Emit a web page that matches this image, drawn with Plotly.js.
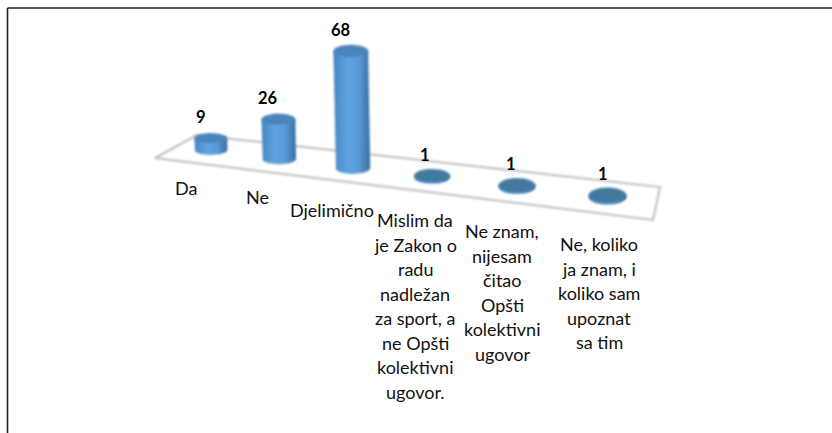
<!DOCTYPE html>
<html>
<head>
<meta charset="utf-8">
<script src="https://cdn.plot.ly/plotly-3.0.1.min.js"></script>
<style>
html,body{margin:0;padding:0;background:#fff;overflow:hidden}
#chart{width:832px;height:433px}
#chart .scatterlayer .trace{filter:blur(0.8px)}
</style>
</head>
<body>
<div id="chart"></div>
<script>
const categories = [
  ["Da"],
  ["Ne"],
  ["Djelimično"],
  ["Mislim da","je Zakon o","radu","nadležan","za sport, a","ne Opšti","kolektivni","ugovor."],
  ["Ne znam,","nijesam","čitao","Opšti","kolektivni","ugovor"],
  ["Ne, koliko","ja znam, i","koliko sam","upoznat","sa tim"]
];
const values = [9, 26, 68, 1, 1, 1];

// Oblique projection of the tilted 3D floor on to the page
const project = (i, v) => {
  const cx = 211 + 65.3*i + 2.8*i*i;
  const by = 150 + 8.6*i + 0.16*i*i;
  const h = v * (1.33 + 0.195*Math.min(i,2));
  return {cx, by, h, rx: 16.4 + 0.5*i, ry: 5 + 0.55*i, top: by - h, tx: cx - 0.017*h};
};
const floorX = [155, 197, 660, 653, 155];
const floorY = [158, 135, 187, 220, 158];
const labelCx = [186, 257, 332, 415, 502, 599];
const labelCy = [188, 197, 210, 220, 231, 244];
const lineGap = 24.5;

const traces = [{
  type:'scatter', mode:'lines', x:floorX, y:floorY, fill:'toself', fillcolor:'#ffffff',
  line:{color:'#bcbcbc', width:2}, hoverinfo:'skip', showlegend:false
}];

const N = 24;
values.forEach((v,i)=>{
  const p = project(i,v);
  const bx=[], by=[];
  bx.push(p.tx-p.rx); by.push(p.top);
  for(let k=0;k<=N;k++){
    const a=Math.PI*k/N;
    bx.push(p.cx-p.rx*Math.cos(a)); by.push(p.by+p.ry*Math.sin(a));
  }
  bx.push(p.tx+p.rx); by.push(p.top);
  bx.push(p.tx-p.rx); by.push(p.top);
  traces.push({
    type:'scatter', mode:'lines', x:bx, y:by, fill:'toself',
    line:{width:0, color:'rgba(0,0,0,0)'}, hoverinfo:'skip', showlegend:false,
    fillgradient:{type:'horizontal', colorscale:[
      [0,'#4580b8'],[0.12,'#5090cb'],[0.4,'#5fa3e0'],[0.7,'#5899d6'],[0.9,'#427db5'],[1,'#336895']
    ]}
  });
  const ex=[], ey=[];
  for(let k=0;k<=2*N;k++){
    const a=Math.PI*k/N;
    ex.push(p.tx+p.rx*Math.cos(a)); ey.push(p.top+p.ry*Math.sin(a));
  }
  traces.push({
    type:'scatter', mode:'lines', x:ex, y:ey, fill:'toself', fillcolor: v>1 ? '#4a84bb' : '#44799f',
    line:{width:0, color:'rgba(0,0,0,0)'}, hoverinfo:'skip', showlegend:false
  });
});

const annotations = [];
const baseText = {xref:'x', yref:'y', showarrow:false, xanchor:'center', yanchor:'middle'};
categories.forEach((lines,i)=>{
  lines.forEach((t,j)=>annotations.push(Object.assign({}, baseText, {
    x:labelCx[i], y:labelCy[i]+j*lineGap, text:t,
    font:{family:'Lato, Carlito, Calibri, sans-serif', size:18, color:'#111'}
  })));
});
values.forEach((v,i)=>{
  const p = project(i,v);
  const dx = i<3 ? -10 : -7 + (i-3)*1.5;
  annotations.push(Object.assign({}, baseText, {
    x:p.tx+dx, y:p.top-21, text:'<b>'+v+'</b>',
    font:{family:'Lato, Carlito, Calibri, sans-serif', size:16.5, color:'#000'}
  }));
});

const layout = {
  width:832, height:433, margin:{l:0,r:0,t:0,b:0},
  paper_bgcolor:'#fff', plot_bgcolor:'#fff', showlegend:false,
  xaxis:{range:[0,832], visible:false, fixedrange:true},
  yaxis:{range:[433,0], visible:false, fixedrange:true},
  annotations,
  shapes:[
    {type:'line', xref:'paper', yref:'paper', x0:7.5/832, x1:1, y0:1-8/433, y1:1-8/433, line:{color:'#222', width:1.6}},
    {type:'line', xref:'paper', yref:'paper', x0:7.5/832, x1:7.5/832, y0:0, y1:1-8/433, line:{color:'#222', width:1.6}}
  ]
};
Plotly.newPlot('chart', traces, layout, {displayModeBar:false, staticPlot:true});
</script>
</body>
</html>
